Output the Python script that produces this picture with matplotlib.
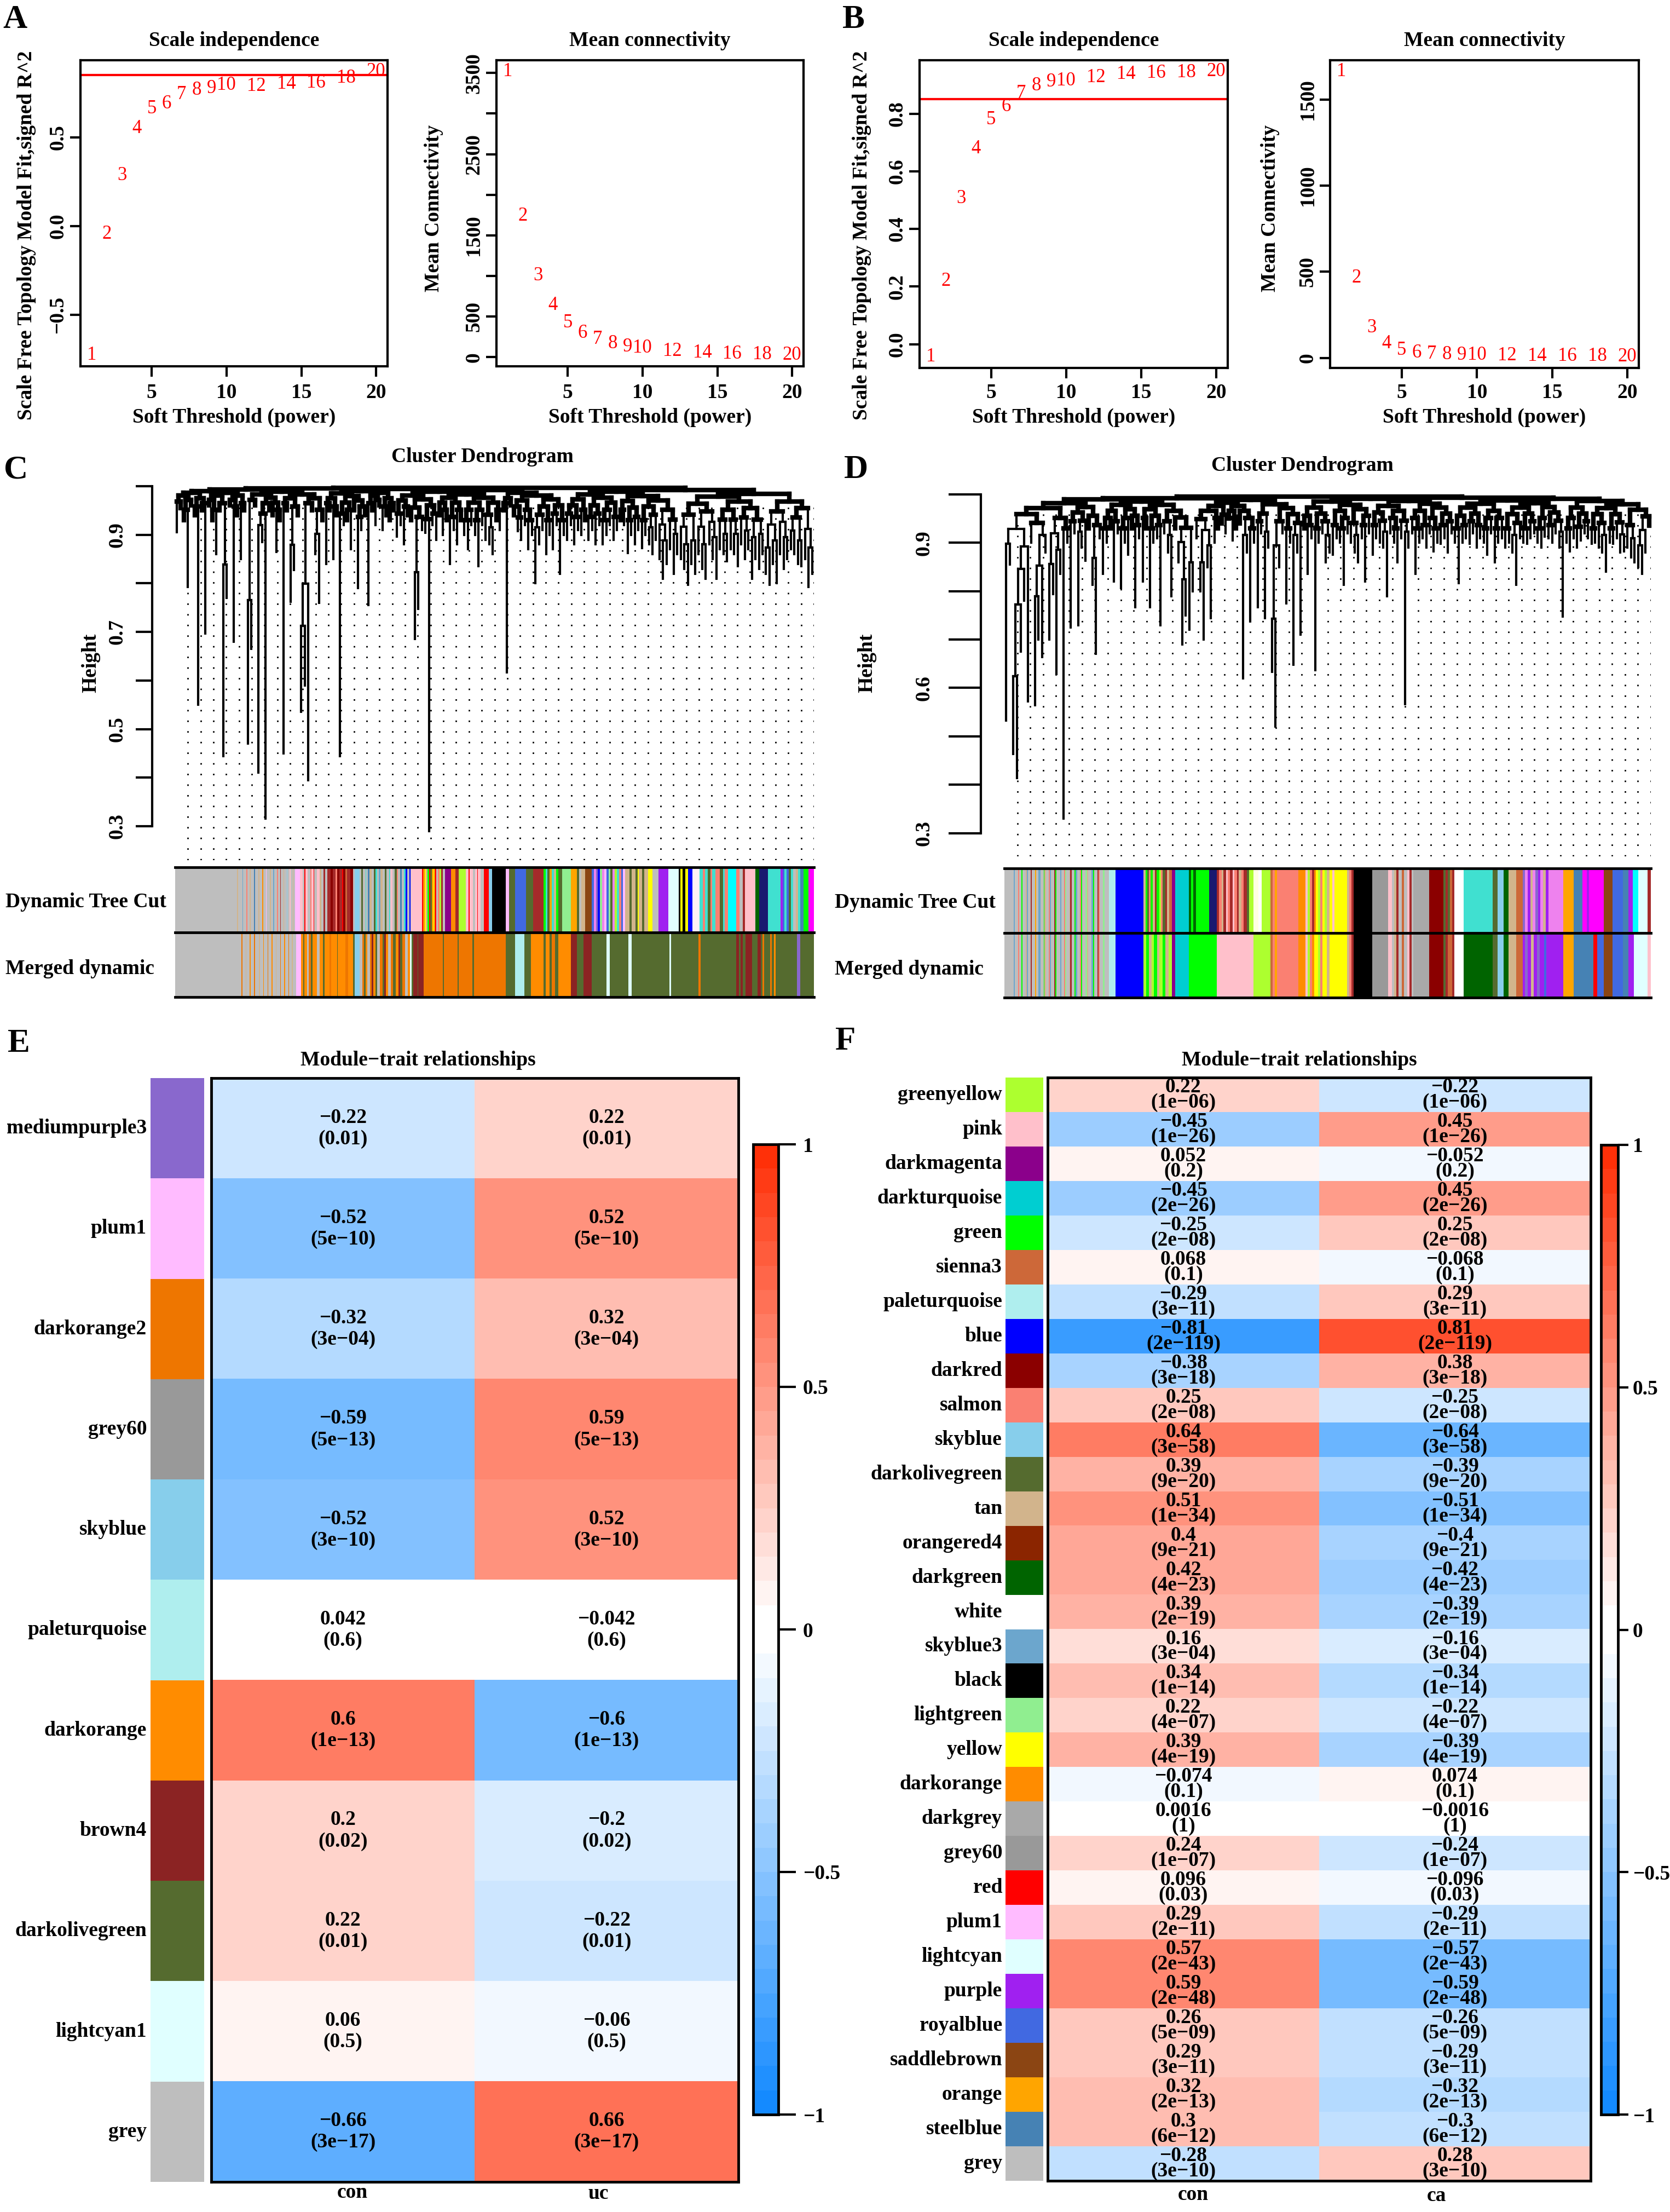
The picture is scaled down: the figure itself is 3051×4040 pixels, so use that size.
import numpy as np
import matplotlib
matplotlib.use('Agg')
import matplotlib.pyplot as plt
from matplotlib.collections import LineCollection
from matplotlib.colors import ListedColormap, Normalize
from matplotlib.transforms import blended_transform_factory as btf
import matplotlib.cm as cm

plt.rcParams['font.family'] = ['Liberation Serif', 'DejaVu Serif']
plt.rcParams['font.weight'] = 'bold'
plt.rcParams['axes.linewidth'] = 3

# ---------------- data ----------------
powers = [1, 2, 3, 4, 5, 6, 7, 8, 9, 10, 12, 14, 16, 18, 20]
A_sft_r2 = [-0.725, -0.044, 0.284, 0.549, 0.66, 0.69, 0.74, 0.765, 0.776, 0.793, 0.788, 0.80, 0.805, 0.833, 0.87]
A_mean_k = [3517, 1739, 1005, 641, 423, 295, 225, 166, 128, 111, 76, 52, 42, 35, 28]
B_sft_r2 = [-0.043, 0.218, 0.505, 0.679, 0.78, 0.825, 0.871, 0.898, 0.91, 0.915, 0.925, 0.937, 0.94, 0.942, 0.946]
B_mean_k = [1662, 466, 175, 82, 44, 28, 23, 20, 17, 15, 13, 11, 10, 9, 8]
R2_cut = 0.85

# dendrogram leaf heights (left to right)
C_leaf_h = [0.905, 0.955, 0.93, 0.793, 0.96, 0.94,
            0.55, 0.95, 0.697, 0.96, 0.93, 0.86,
            0.95, 0.444, 0.77, 0.96, 0.68, 0.94,
            0.85, 0.95, 0.47, 0.665, 0.96, 0.41,
            0.885, 0.316, 0.95, 0.94, 0.865, 0.93,
            0.45, 0.95, 0.762, 0.827, 0.94, 0.536,
            0.59, 0.395, 0.95, 0.86, 0.76, 0.93,
            0.84, 0.95, 0.85, 0.94, 0.444, 0.92,
            0.93, 0.87, 0.95, 0.79, 0.91, 0.94,
            0.755, 0.95, 0.92, 0.96, 0.91, 0.94,
            0.93, 0.95, 0.896, 0.92, 0.88, 0.94,
            0.93, 0.685, 0.747, 0.91, 0.904, 0.29,
            0.92, 0.89, 0.94, 0.90, 0.93, 0.84,
            0.91, 0.88, 0.93, 0.90, 0.87, 0.92,
            0.90, 0.835, 0.92, 0.89, 0.88, 0.86,
            0.93, 0.91, 0.95, 0.617, 0.96, 0.94,
            0.908, 0.89, 0.92, 0.87, 0.90, 0.80,
            0.88, 0.91, 0.86, 0.90, 0.87, 0.92,
            0.82, 0.90, 0.89, 0.92, 0.88, 0.91,
            0.90, 0.93, 0.89, 0.91, 0.88, 0.92,
            0.88, 0.90, 0.92, 0.89, 0.91, 0.93,
            0.92, 0.863, 0.90, 0.88, 0.91, 0.873,
            0.90, 0.88, 0.86, 0.89, 0.85, 0.81,
            0.84, 0.87, 0.82, 0.86, 0.85, 0.83,
            0.797, 0.84, 0.82, 0.86, 0.83, 0.81,
            0.88, 0.85, 0.81, 0.87, 0.86, 0.846,
            0.87, 0.86, 0.835, 0.88, 0.85, 0.87,
            0.81, 0.85, 0.83, 0.86, 0.82, 0.797,
            0.84, 0.80, 0.86, 0.83, 0.85, 0.87,
            0.86, 0.84, 0.835, 0.85, 0.793, 0.82]
D_leaf_h = [0.533, 0.855, 0.464, 0.414, 0.675, 0.78,
            0.572, 0.90, 0.564, 0.70, 0.664, 0.88,
            0.70, 0.794, 0.629, 0.836, 0.33, 0.90,
            0.725, 0.92, 0.729, 0.89, 0.863, 0.93,
            0.813, 0.671, 0.91, 0.836, 0.90, 0.93,
            0.82, 0.92, 0.806, 0.90, 0.875, 0.93,
            0.767, 0.91, 0.82, 0.93, 0.767, 0.90,
            0.91, 0.729, 0.92, 0.88, 0.79, 0.93,
            0.86, 0.69, 0.75, 0.72, 0.80, 0.91,
            0.80, 0.70, 0.85, 0.744, 0.90, 0.93,
            0.94, 0.92, 0.95, 0.905, 0.93, 0.94,
            0.62, 0.88, 0.737, 0.90, 0.767, 0.92,
            0.744, 0.89, 0.633, 0.52, 0.85, 0.92,
            0.775, 0.90, 0.648, 0.88, 0.71, 0.93,
            0.836, 0.91, 0.637, 0.90, 0.92, 0.86,
            0.88, 0.875, 0.91, 0.90, 0.813, 0.92,
            0.90, 0.88, 0.86, 0.91, 0.82, 0.92,
            0.875, 0.91, 0.90, 0.89, 0.79, 0.92,
            0.90, 0.86, 0.91, 0.567, 0.89, 0.92,
            0.836, 0.90, 0.91, 0.89, 0.92, 0.882,
            0.90, 0.898, 0.91, 0.88, 0.92, 0.90,
            0.817, 0.90, 0.91, 0.898, 0.92, 0.89,
            0.91, 0.90, 0.875, 0.92, 0.86, 0.90,
            0.91, 0.89, 0.90, 0.88, 0.813, 0.91,
            0.90, 0.898, 0.91, 0.92, 0.90, 0.89,
            0.913, 0.91, 0.90, 0.92, 0.89, 0.748,
            0.90, 0.882, 0.91, 0.89, 0.905, 0.92,
            0.91, 0.898, 0.90, 0.89, 0.88, 0.84,
            0.90, 0.898, 0.91, 0.88, 0.882, 0.89,
            0.87, 0.86, 0.85, 0.836, 0.88, 0.936]

# module colour bars: "start colour" breakpoints along the bar
C_dynamic = """12 grey,160 tan,162 grey,172 skyblue3,174 grey,182 salmon,184 grey,190 tan,192 grey,200 steelblue,202 grey,
210 tan,213 grey,220 darkorange,222 grey,228 plum1,230 grey,238 tan,240 grey,246 skyblue3,248 grey,255 salmon,257 grey,
262 brown,264 grey,270 tan,272 grey,278 skyblue,280 grey,285 pink,287 grey,292 tan,294 grey,298 plum1,310 pink,316 grey,
320 red,322 pink,328 grey,334 salmon,337 pink,342 red,344 grey,350 pink,356 tan,360 grey,366 brown,370 grey,375 brown,
382 darkred,388 brown,395 salmon,398 darkred,404 brown,410 red,412 darkred,418 sienna3,422 brown,430 darkred,436 grey,
440 skyblue,452 grey,456 darkolivegreen,460 grey,466 turquoise,468 grey,472 steelblue,475 tan,480 grey,486 darkolivegreen,
490 turquoise,493 grey,498 skyblue3,502 tan,506 grey,512 darkolivegreen,516 grey,522 turquoise,525 pink,530 grey,
535 darkolivegreen,540 salmon,543 grey,548 steelblue,552 grey,558 turquoise,561 blue,565 grey,570 blue,573 grey,575 pink,
600 red,603 darkorange,607 yellow,610 tan,614 green,617 red,620 darkolivegreen,624 orange,628 yellow,631 red,634 grey,
638 salmon,642 greenyellow,646 brown,650 grey,655 darkmagenta,670 darkorange,680 brown,688 greenyellow,705 pink,712 red,
714 pink,722 grey,727 pink,732 red,734 pink,740 grey,748 red,760 skyblue,768 black,800 plum1,808 darkolivegreen,
822 royalblue,848 darkolivegreen,865 brown,890 green,895 turquoise,900 darkolivegreen,905 orange,910 turquoise,915 tan,
920 green,925 darkolivegreen,935 lightgreen,955 orange,970 darkolivegreen,975 grey,980 tan,990 saddlebrown,1005 royalblue,
1010 violet,1015 mediumpurple3,1020 blue,1025 lightgreen,1030 violet,1035 plum1,1040 royalblue,1045 lightgreen,
1050 darkolivegreen,1055 violet,1060 greenyellow,1065 turquoise,1070 salmon,1075 royalblue,1080 plum1,1085 tan,
1095 darkolivegreen,1100 tan,1110 darkolivegreen,1115 yellow,1118 tan,1125 darkolivegreen,1130 tan,1140 yellow,1150 grey,
1165 purple,1188 lightcyan,1212 black,1217 yellow,1222 black,1228 yellow,1235 blue,1245 lavenderblush,1262 turquoise,
1270 salmon,1275 turquoise,1282 darkolivegreen,1288 salmon,1292 turquoise,1300 salmon,1310 darkolivegreen,1318 turquoise,
1322 salmon,1330 cyan,1350 salmon,1358 grey,1365 brown,1370 pink,1395 darkgreen,1405 midnightblue,1425 turquoise,
1455 purple,1460 royalblue,1465 turquoise,1470 royalblue,1475 darkolivegreen,1480 turquoise,1486 grey,1492 tan,
1497 turquoise,1502 steelblue,1510 green,1522 magenta,1535 end"""
C_merged = """12 grey,170 darkorange2,172 grey,180 tan,182 grey,190 darkorange,192 grey,200 darkorange2,202 grey,212 tan,214 grey,
222 darkorange,224 grey,232 darkorange2,234 grey,242 darkorange,244 grey,252 tan,254 grey,262 darkorange2,264 grey,
272 darkorange,274 grey,282 darkorange2,284 grey,290 tan,292 grey,300 plum1,312 darkorange,318 darkolivegreen,
320 darkorange,326 grey,330 darkorange2,336 darkolivegreen,340 darkorange,350 grey,356 darkorange,364 darkolivegreen,
368 darkorange,380 darkorange2,384 darkorange,398 darkolivegreen,400 darkorange,418 darkorange2,425 darkorange,
436 darkolivegreen,440 skyblue,452 grey,458 darkorange2,462 darkolivegreen,466 darkorange,470 grey,476 darkorange2,
480 brown4,484 darkorange,490 darkolivegreen,494 grey,500 darkorange2,506 darkolivegreen,510 brown4,514 darkorange,
520 grey,526 darkorange2,532 darkolivegreen,538 darkorange,544 brown4,548 darkolivegreen,554 darkorange2,560 grey,
566 darkorange,572 lightcyan1,576 darkolivegreen,580 brown4,590 darkolivegreen,592 brown4,605 darkorange2,
650 darkolivegreen,653 darkorange2,685 darkolivegreen,688 darkorange2,720 darkolivegreen,725 darkorange2,
800 darkolivegreen,822 paleturquoise,845 darkolivegreen,860 darkorange,890 darkolivegreen,895 darkorange,
905 darkolivegreen,910 darkorange2,918 darkolivegreen,925 darkorange,955 brown4,970 darkolivegreen,985 brown4,
1005 darkolivegreen,1040 lightcyan1,1048 darkolivegreen,1092 lightcyan1,1100 darkolivegreen,1190 lightcyan1,
1195 darkolivegreen,1260 darkorange2,1265 darkolivegreen,1350 brown4,1356 darkolivegreen,1360 brown4,1365 darkolivegreen,
1372 brown4,1388 darkolivegreen,1400 brown4,1408 darkolivegreen,1412 darkorange2,1416 darkolivegreen,1430 darkorange2,
1434 darkolivegreen,1440 darkorange,1444 darkolivegreen,1495 mediumpurple3,1502 darkolivegreen,1535 end"""
D_left = """18 grey,40 skyblue3,42 grey,50 salmon,52 grey,58 green,60 grey,68 tan,70 skyblue3,73 grey,80 brown,82 grey,90 orange,
92 grey,98 skyblue3,102 grey,110 green,112 tan,115 grey,122 salmon,124 skyblue3,127 grey,135 brown,137 green,140 grey,
148 skyblue3,151 grey,158 salmon,160 lightgreen,163 grey,170 tan,172 brown,175 grey,182 green,185 skyblue3,188 grey,
195 salmon,197 green,200 grey,208 lightgreen,211 tan,214 grey,222 skyblue3,225 green,228 grey,236 brown,238 salmon,
241 grey,248 lightgreen,252 grey,262 paleturquoise,278 blue,"""
D_dynamic = D_left + """343 tan,348 green,352 darkolivegreen,356 salmon,360 green,365 tan,370 brown,374 green,
380 greenyellow,384 salmon,388 darkolivegreen,394 brown,398 tan,404 sienna3,410 darkmagenta,418 darkturquoise,450 darkgreen,
455 green,460 darkgreen,466 green,497 midnightblue,515 brown,520 salmon,526 tan,530 brown,536 pink,540 salmon,546 brown,
552 pink,556 salmon,562 brown,566 tan,572 salmon,578 brown,585 darkolivegreen,590 greenyellow,600 lightyellow,612 white,
620 greenyellow,640 sienna3,645 salmon,650 orange,655 salmon,705 darkorange,722 pink,727 greenyellow,732 salmon,
737 brown,742 darkorange,747 yellow,752 greenyellow,757 salmon,762 yellow,767 greenyellow,772 tan,778 yellow,785 pink,
790 yellow,820 tan,825 salmon,830 brown,835 black,878 grey60,915 pink,925 grey,930 tan,935 brown,940 grey,948 sienna3,
952 grey,960 pink,965 brown,970 grey,975 darkgrey,1012 darkred,1045 darkolivegreen,1050 brown,1055 darkolivegreen,
1060 sienna3,1065 brown,1070 white,1092 turquoise,1160 darkolivegreen,1172 skyblue,1185 darkgreen,1197 tan,1215 sienna3,
1230 mediumpurple3,1236 violet,1242 purple,1248 tan,1254 violet,1260 mediumpurple3,1266 purple,1272 violet,1278 tan,
1284 purple,1290 violet,1325 orange,1350 steelblue,1370 magenta,1380 purple,1385 magenta,1420 saddlebrown,
1440 royalblue,1465 steelblue,1478 purple,1488 cyan,1500 lightcyan,1522 brown,1530 end"""
D_merged = D_left + """343 greenyellow,350 green,356 tan,362 greenyellow,368 green,375 tan,380 greenyellow,388 green,
395 tan,402 greenyellow,410 darkmagenta,418 darkturquoise,450 green,515 pink,600 greenyellow,640 sienna3,645 salmon,
650 orange,655 salmon,705 darkorange,722 pink,727 greenyellow,732 salmon,737 darkorange,742 yellow,752 greenyellow,
757 salmon,762 yellow,772 tan,778 yellow,820 tan,825 salmon,830 brown,835 black,878 grey60,915 pink,925 grey,930 tan,
935 brown,940 grey,948 sienna3,952 grey,960 pink,965 brown,970 grey,975 darkgrey,1012 darkred,1045 darkolivegreen,
1050 brown,1055 sienna3,1065 brown,1070 white,1092 darkgreen,1160 darkolivegreen,1172 skyblue,1185 darkgreen,1197 tan,
1215 sienna3,1230 purple,1236 mediumpurple3,1242 purple,1250 tan,1256 purple,1264 mediumpurple3,1270 purple,
1280 royalblue,1286 purple,1325 orange,1350 steelblue,1395 red,1405 royalblue,1420 saddlebrown,1440 royalblue,
1465 steelblue,1478 purple,1490 lightcyan,1522 pink,1530 end"""

# module-trait tables
E_modules = ['mediumpurple3', 'plum1', 'darkorange2', 'grey60', 'skyblue', 'paleturquoise',
             'darkorange', 'brown4', 'darkolivegreen', 'lightcyan1', 'grey']
E_con = [-0.22, -0.52, -0.32, -0.59, -0.52, 0.042, 0.6, 0.2, 0.22, 0.06, -0.66]
E_p = ['0.01', '5e-10', '3e-04', '5e-13', '3e-10', '0.6', '1e-13', '0.02', '0.01', '0.5', '3e-17']
E_traits = ['con', 'uc']

F_modules = ['greenyellow', 'pink', 'darkmagenta', 'darkturquoise', 'green', 'sienna3', 'paleturquoise',
             'blue', 'darkred', 'salmon', 'skyblue', 'darkolivegreen', 'tan', 'orangered4', 'darkgreen',
             'white', 'skyblue3', 'black', 'lightgreen', 'yellow', 'darkorange', 'darkgrey', 'grey60',
             'red', 'plum1', 'lightcyan', 'purple', 'royalblue', 'saddlebrown', 'orange', 'steelblue', 'grey']
F_con = [0.22, -0.45, 0.052, -0.45, -0.25, 0.068, -0.29, -0.81, -0.38, 0.25, 0.64, 0.39, 0.51, 0.4,
         0.42, 0.39, 0.16, 0.34, 0.22, 0.39, -0.074, 0.0016, 0.24, 0.096, 0.29, 0.57, 0.59, 0.26,
         0.29, 0.32, 0.3, -0.28]
F_p = ['1e-06', '1e-26', '0.2', '2e-26', '2e-08', '0.1', '3e-11', '2e-119', '3e-18', '2e-08', '3e-58',
       '9e-20', '1e-34', '9e-21', '4e-23', '2e-19', '3e-04', '1e-14', '4e-07', '4e-19', '0.1', '1',
       '1e-07', '0.03', '2e-11', '2e-43', '2e-48', '5e-09', '3e-11', '2e-13', '6e-12', '3e-10']
F_traits = ['con', 'ca']

RCOL = {'grey': '#BEBEBE', 'grey60': '#999999', 'darkgrey': '#A9A9A9', 'mediumpurple3': '#8968CD',
        'plum1': '#FFBBFF', 'darkorange2': '#EE7600', 'skyblue': '#87CEEB', 'paleturquoise': '#AFEEEE',
        'darkorange': '#FF8C00', 'brown4': '#8B2323', 'darkolivegreen': '#556B2F', 'lightcyan1': '#E0FFFF',
        'lightcyan': '#E0FFFF', 'greenyellow': '#ADFF2F', 'pink': '#FFC0CB', 'darkmagenta': '#8B008B',
        'darkturquoise': '#00CED1', 'green': '#00FF00', 'sienna3': '#CD6839', 'blue': '#0000FF',
        'darkred': '#8B0000', 'salmon': '#FA8072', 'tan': '#D2B48C', 'orangered4': '#8B2500',
        'darkgreen': '#006400', 'white': '#FFFFFF', 'skyblue3': '#6CA6CD', 'black': '#000000',
        'lightgreen': '#90EE90', 'yellow': '#FFFF00', 'red': '#FF0000', 'purple': '#A020F0',
        'royalblue': '#4169E1', 'saddlebrown': '#8B4513', 'orange': '#FFA500', 'steelblue': '#4682B4',
        'brown': '#A52A2A', 'turquoise': '#40E0D0', 'magenta': '#FF00FF', 'cyan': '#00FFFF',
        'midnightblue': '#191970', 'lightyellow': '#FFFFE0', 'violet': '#EE82EE', 'lavenderblush': '#FFF0F5'}

# ---------------- figure ----------------
W, H = 3051, 4040
fig = plt.figure(figsize=(W / 100, H / 100), dpi=100)
FS = 27
PT = 0.72  # points per pixel


def R(x0, y0, x1, y1):
    return [x0 / W, 1 - y1 / H, (x1 - x0) / W, (y1 - y0) / H]


def T(x, y, s, **kw):
    kw.setdefault('fontsize', FS)
    fig.text(x / W, 1 - y / H, s, **kw)


def minus(s):
    return s.replace('-', '\u2212')


def padded(v):
    lo, hi = min(v), max(v)
    r = hi - lo
    return lo - 0.04 * r, hi + 0.04 * r


def sft_panel(box, vals, hline, yticks, ylabs, ylabel, ylab_x, ylab_y, title):
    ax = fig.add_axes(R(*box))
    ax.set_xlim(*padded(powers))
    ax.set_ylim(*padded(vals))
    for p, v in zip(powers, vals):
        ax.text(p, v, str(p), color='red', ha='center', va='center', fontsize=25,
                fontweight='normal')
    if hline is not None:
        ax.axhline(hline, color='red', lw=3)
    ax.set_xticks([5, 10, 15, 20])
    ax.set_yticks(yticks)
    ax.tick_params(labelbottom=False, labelleft=False, length=14, width=3, direction='out')
    ty = btf(fig.transFigure, ax.transData)
    for t, l in zip(yticks, ylabs):
        if l:
            ax.text((box[0] - 41) / W, t, minus(l), transform=ty, rotation=90, ha='center',
                    va='center', fontsize=FS)
    tx = btf(ax.transData, fig.transFigure)
    for t in [5, 10, 15, 20]:
        ax.text(t, 1 - 718 / H, str(t), transform=tx, ha='center', va='center', fontsize=FS)
    cx = (box[0] + box[2]) / 2
    T(cx, 74, title, ha='center', va='center')
    T(cx, 762, 'Soft Threshold (power)', ha='center', va='center')
    T(ylab_x, ylab_y, ylabel, rotation=90, ha='center', va='center')


sft_panel((147, 110, 708, 669), A_sft_r2, R2_cut, [-0.5, 0.0, 0.5], ['-0.5', '0.0', '0.5'],
          'Scale Free Topology Model Fit,signed R^2', 49, 430, 'Scale independence')
sft_panel((907, 110, 1468, 669), A_mean_k, None, [0, 500, 1000, 1500, 2000, 2500, 3000, 3500],
          ['0', '500', '', '1500', '', '2500', '', '3500'], 'Mean Connectivity', 792, 380,
          'Mean connectivity')
sft_panel((1680, 110, 2243, 672), B_sft_r2, R2_cut, [0.0, 0.2, 0.4, 0.6, 0.8],
          ['0.0', '0.2', '0.4', '0.6', '0.8'], 'Scale Free Topology Model Fit,signed R^2', 1574, 430,
          'Scale independence')
sft_panel((2430, 110, 2994, 672), B_mean_k, None, [0, 500, 1000, 1500], ['0', '500', '1000', '1500'],
          'Mean Connectivity', 2320, 380, 'Mean connectivity')


# ---------------- dendrograms ----------------
def dendro_segments(h, top, frac, thick_from):
    """Agglomerate neighbouring leaves (lowest first); return thin and thick segments."""
    nodes = [(float(i), float(v)) for i, v in enumerate(h)]
    thin, thick = [], []

    def add(seg):
        (thick if min(seg[0][1], seg[1][1]) >= thick_from else thin).append(seg)

    while len(nodes) > 1:
        k = min(range(len(nodes) - 1), key=lambda i: max(nodes[i][1], nodes[i + 1][1]))
        (xa, ha), (xb, hb) = nodes[k], nodes[k + 1]
        hm = max(ha, hb)
        hn = hm + (top - hm) * frac
        add([(xa, ha), (xa, hn)])
        add([(xb, hb), (xb, hn)])
        add([(xa, hn), (xb, hn)])
        nodes[k:k + 2] = [((xa + xb) / 2, hn)]
    return thin, thick


def parse_segments(s):
    items = [it.strip().split() for it in s.replace('\n', '').split(',') if it.strip()]
    return [(float(a), c) for a, c in items]


def dendro_panel(box, leaf_h, ylim, top, frac, spine_x, tick_len, ticklab_x, height_x, labels,
                 title_xy, bar_box, dyn, mer, lab_x):
    ax = fig.add_axes(R(*box))
    n = len(leaf_h)
    ax.set_xlim(-0.5, n - 0.5)
    ax.set_ylim(*ylim)
    tr = btf(ax.transAxes, ax.transData)
    ax.vlines(np.linspace(0.02, 1.0, 50), ylim[0], 0.975, transform=tr, colors='black',
              linestyles=(0, (1, 6)), lw=2, zorder=1)
    thin, thick = dendro_segments(leaf_h, top, frac, 0.93)
    ax.add_collection(LineCollection(thin, colors='black', linewidths=3.0, zorder=2,
                                     clip_on=False, capstyle='projecting'))
    ax.add_collection(LineCollection(thick, colors='black', linewidths=6.0, zorder=2,
                                     clip_on=False, capstyle='projecting'))
    for k in ['top', 'right', 'bottom']:
        ax.spines[k].set_visible(False)
    ax.spines['left'].set_position(('outward', (box[0] - spine_x) * PT))
    ax.spines['left'].set_bounds(0.3, 1.0)
    ax.set_xticks([])
    yt = [0.3, 0.4, 0.5, 0.6, 0.7, 0.8, 0.9, 1.0]
    ax.set_yticks(yt)
    ax.tick_params(axis='y', labelleft=False, length=tick_len * PT, width=3)
    ty = btf(fig.transFigure, ax.transData)
    for t in labels:
        ax.text(ticklab_x / W, t, '%.1f' % t, transform=ty, rotation=90, ha='center', va='center',
                fontsize=FS)
    T(height_x, 1211, 'Height', rotation=90, ha='center', va='center')
    T(title_xy[0], title_xy[1], 'Cluster Dendrogram', ha='center', va='center')

    bx = fig.add_axes(R(*bar_box))
    for row, s in ((1, dyn), (0, mer)):
        seg = parse_segments(s)
        for (a, c), (b, _) in zip(seg[:-1], seg[1:]):
            bx.broken_barh([(a, b - a)], (row, 1), facecolors=RCOL[c], edgecolor='none', lw=0)
        bx.set_xlim(seg[0][0], seg[-1][0])
    bx.set_ylim(0, 2)
    for yv in (0, 1, 2):
        bx.axhline(yv, color='black', lw=3.5, clip_on=False)
    bx.axis('off')
    cy = (bar_box[1] + bar_box[3]) / 2
    T(lab_x, (bar_box[1] + cy) / 2 + 4, 'Dynamic Tree Cut', ha='left', va='center')
    T(lab_x, (cy + bar_box[3]) / 2 + 8, 'Merged dynamic', ha='left', va='center')


dendro_panel((320, 888, 1487, 1571), C_leaf_h, (0.23, 1.0), 1.0, 0.3, 278, 30, 214, 166,
             [0.3, 0.5, 0.7, 0.9], (881, 834), (320, 1584, 1487, 1821), C_dynamic, C_merged, 10)
dendro_panel((1835, 903, 3016, 1564), D_leaf_h, (0.252, 1.0), 1.0, 0.3, 1792, 59, 1688, 1584,
             [0.3, 0.6, 0.9], (2379, 850), (1835, 1586, 3016, 1822), D_dynamic, D_merged, 1525)

# ---------------- heatmaps ----------------
blue_end = np.array([20, 138, 255]) / 255
red_end = np.array([255, 48, 8]) / 255
white = np.ones(3)
pal = [tuple(blue_end + (white - blue_end) * t) for t in np.linspace(0, 1, 20)] + \
      [tuple(white + (red_end - white) * t) for t in np.linspace(0, 1, 20)]
cmap = ListedColormap(pal)
norm = Normalize(-1, 1)


def fmt(v):
    return minus('%g' % v)


def heatmap(box_hm, box_col, box_cb, modules, con, pvals, traits, title_xy, lab_right, trait_pos,
            off, cb_len, cb_pad):
    n = len(modules)
    M = np.column_stack([con, -np.array(con)])
    ax = fig.add_axes(R(*box_hm))
    ax.imshow(M, cmap=cmap, norm=norm, aspect='auto', interpolation='nearest', extent=(0, 2, n, 0))
    ax.set_xticks([])
    ax.set_yticks([])
    for sp in ax.spines.values():
        sp.set_linewidth(3.5)
    for i in range(n):
        for j, v in enumerate(M[i]):
            ax.text(j + 0.5, i + 0.5 - off, fmt(v), ha='center', va='center', fontsize=FS)
            ax.text(j + 0.5, i + 0.5 + off, '(' + minus(pvals[i]) + ')', ha='center', va='center',
                    fontsize=FS)
    axc = fig.add_axes(R(*box_col))
    axc.barh(np.arange(n) + 0.5, 1, height=1.0, left=0, color=[RCOL[m] for m in modules], lw=0)
    axc.set_ylim(n, 0)
    axc.set_xlim(0, 1)
    axc.axis('off')
    ty = btf(fig.transFigure, axc.transData)
    for i, m in enumerate(modules):
        axc.text(lab_right / W, i + 0.5, m, transform=ty, ha='right', va='center', fontsize=FS)
    for (x, y), t in zip(trait_pos, traits):
        T(x, y, t, ha='center', va='center')
    T(title_xy[0], title_xy[1], 'Module\u2212trait relationships', ha='center', va='center')
    cax = fig.add_axes(R(*box_cb))
    cb = fig.colorbar(cm.ScalarMappable(norm=norm, cmap=cmap), cax=cax)
    cb.outline.set_linewidth(3.5)
    cb.set_ticks([-1, -0.5, 0, 0.5, 1])
    cb.set_ticklabels([minus(s) for s in ['-1', '-0.5', '0', '0.5', '1']])
    cax.tick_params(length=cb_len * PT, width=3, labelsize=FS, pad=cb_pad * PT)


heatmap((386, 1969, 1349, 3985), (275, 1969, 373, 3985), (1376, 2090, 1422, 3862), E_modules, E_con,
        E_p, E_traits, (764, 1937), 268, [(644, 4004), (1093, 4006)], 0.107, 32, 13)
heatmap((1914, 1968, 2906, 3983), (1837, 1968, 1906, 3983), (2925, 2091, 2956, 3862), F_modules,
        F_con, F_p, F_traits, (2374, 1937), 1831, [(2180, 4008), (2624, 4011)], 0.222, 19, 8)

# panel letters
for s, x, y in [('A', 27, 36), ('B', 1559, 36), ('C', 29, 858), ('D', 1564, 858), ('E', 34, 1906),
                ('F', 1545, 1902)]:
    T(x, y, s, fontsize=44, ha='center', va='center')

fig.savefig('out.png', dpi=100)
